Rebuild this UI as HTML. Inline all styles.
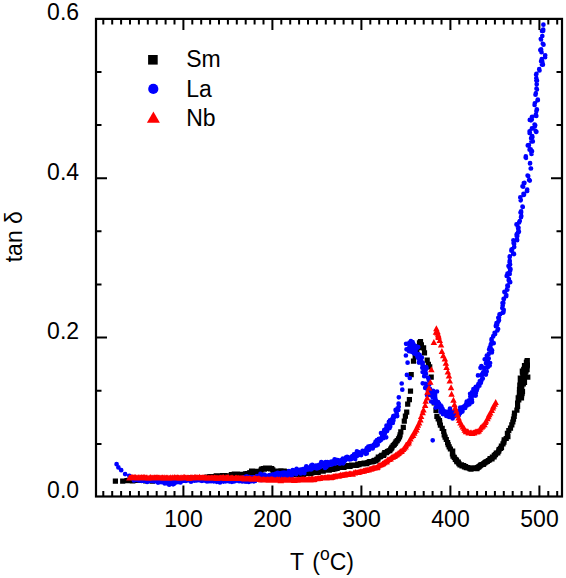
<!DOCTYPE html>
<html><head><meta charset="utf-8"><title>tan delta vs T</title>
<style>
html,body{margin:0;padding:0;background:#fff;}
svg{display:block;}
text{font-family:"Liberation Sans",sans-serif;fill:#000;}
</style></head><body>
<svg width="566" height="578" viewBox="0 0 566 578">
<rect width="566" height="578" fill="#fff"/>
<path d="M112.8 478.5h5.2v5.2h-5.2zM120.1 478.5h5.2v5.2h-5.2zM124.4 478.0h5.2v5.2h-5.2zM125.6 477.9h5.2v5.2h-5.2zM126.5 477.8h5.2v5.2h-5.2zM127.6 478.0h5.2v5.2h-5.2zM128.8 477.7h5.2v5.2h-5.2zM129.8 478.2h5.2v5.2h-5.2zM130.7 478.0h5.2v5.2h-5.2zM131.7 477.9h5.2v5.2h-5.2zM132.7 477.3h5.2v5.2h-5.2zM133.8 477.0h5.2v5.2h-5.2zM135.1 477.0h5.2v5.2h-5.2zM135.9 477.3h5.2v5.2h-5.2zM136.7 477.9h5.2v5.2h-5.2zM137.7 476.7h5.2v5.2h-5.2zM138.9 477.8h5.2v5.2h-5.2zM139.9 477.1h5.2v5.2h-5.2zM140.8 477.9h5.2v5.2h-5.2zM141.6 477.4h5.2v5.2h-5.2zM142.5 477.4h5.2v5.2h-5.2zM143.2 478.2h5.2v5.2h-5.2zM144.0 477.7h5.2v5.2h-5.2zM145.2 477.8h5.2v5.2h-5.2zM146.4 477.7h5.2v5.2h-5.2zM147.5 477.0h5.2v5.2h-5.2zM148.6 477.7h5.2v5.2h-5.2zM149.8 478.5h5.2v5.2h-5.2zM150.8 477.0h5.2v5.2h-5.2zM151.7 477.7h5.2v5.2h-5.2zM152.6 477.7h5.2v5.2h-5.2zM153.5 477.7h5.2v5.2h-5.2zM154.5 477.0h5.2v5.2h-5.2zM155.6 477.1h5.2v5.2h-5.2zM156.4 476.7h5.2v5.2h-5.2zM157.3 477.1h5.2v5.2h-5.2zM158.1 477.6h5.2v5.2h-5.2zM158.9 476.7h5.2v5.2h-5.2zM159.8 476.1h5.2v5.2h-5.2zM160.9 476.9h5.2v5.2h-5.2zM162.1 477.2h5.2v5.2h-5.2zM163.3 476.7h5.2v5.2h-5.2zM164.2 477.5h5.2v5.2h-5.2zM165.3 476.7h5.2v5.2h-5.2zM166.2 476.7h5.2v5.2h-5.2zM167.2 476.3h5.2v5.2h-5.2zM168.2 476.5h5.2v5.2h-5.2zM169.1 477.0h5.2v5.2h-5.2zM170.3 477.0h5.2v5.2h-5.2zM171.3 477.1h5.2v5.2h-5.2zM172.4 476.9h5.2v5.2h-5.2zM173.3 476.8h5.2v5.2h-5.2zM174.1 475.7h5.2v5.2h-5.2zM175.2 476.1h5.2v5.2h-5.2zM176.3 477.5h5.2v5.2h-5.2zM177.2 476.2h5.2v5.2h-5.2zM178.3 476.7h5.2v5.2h-5.2zM179.3 476.3h5.2v5.2h-5.2zM180.5 476.6h5.2v5.2h-5.2zM181.7 476.3h5.2v5.2h-5.2zM182.8 475.9h5.2v5.2h-5.2zM183.6 475.9h5.2v5.2h-5.2zM184.8 476.4h5.2v5.2h-5.2zM185.9 476.0h5.2v5.2h-5.2zM186.8 475.3h5.2v5.2h-5.2zM187.7 476.3h5.2v5.2h-5.2zM188.7 476.5h5.2v5.2h-5.2zM189.6 476.5h5.2v5.2h-5.2zM190.6 476.4h5.2v5.2h-5.2zM191.5 475.4h5.2v5.2h-5.2zM192.5 476.7h5.2v5.2h-5.2zM193.5 475.9h5.2v5.2h-5.2zM194.7 475.5h5.2v5.2h-5.2zM195.7 475.7h5.2v5.2h-5.2zM196.9 475.6h5.2v5.2h-5.2zM198.1 475.2h5.2v5.2h-5.2zM199.1 475.6h5.2v5.2h-5.2zM200.3 475.5h5.2v5.2h-5.2zM201.4 475.2h5.2v5.2h-5.2zM202.6 475.2h5.2v5.2h-5.2zM203.5 475.0h5.2v5.2h-5.2zM204.3 474.6h5.2v5.2h-5.2zM205.2 474.6h5.2v5.2h-5.2zM206.4 474.9h5.2v5.2h-5.2zM207.3 474.0h5.2v5.2h-5.2zM208.4 474.2h5.2v5.2h-5.2zM209.7 474.6h5.2v5.2h-5.2zM210.7 474.2h5.2v5.2h-5.2zM211.6 474.3h5.2v5.2h-5.2zM212.5 473.9h5.2v5.2h-5.2zM213.6 473.2h5.2v5.2h-5.2zM214.5 473.5h5.2v5.2h-5.2zM215.6 473.6h5.2v5.2h-5.2zM216.6 473.3h5.2v5.2h-5.2zM217.4 473.3h5.2v5.2h-5.2zM218.2 473.4h5.2v5.2h-5.2zM219.1 473.7h5.2v5.2h-5.2zM220.1 473.0h5.2v5.2h-5.2zM221.2 473.6h5.2v5.2h-5.2zM222.2 473.1h5.2v5.2h-5.2zM223.2 473.4h5.2v5.2h-5.2zM224.2 473.4h5.2v5.2h-5.2zM225.3 473.6h5.2v5.2h-5.2zM226.1 473.2h5.2v5.2h-5.2zM226.9 473.2h5.2v5.2h-5.2zM228.1 473.4h5.2v5.2h-5.2zM228.8 471.9h5.2v5.2h-5.2zM229.7 472.1h5.2v5.2h-5.2zM230.9 472.9h5.2v5.2h-5.2zM231.7 471.5h5.2v5.2h-5.2zM232.9 472.4h5.2v5.2h-5.2zM234.0 472.3h5.2v5.2h-5.2zM234.8 471.6h5.2v5.2h-5.2zM235.9 471.8h5.2v5.2h-5.2zM236.7 472.4h5.2v5.2h-5.2zM237.8 472.3h5.2v5.2h-5.2zM238.9 471.8h5.2v5.2h-5.2zM240.1 471.7h5.2v5.2h-5.2zM241.2 471.7h5.2v5.2h-5.2zM242.0 472.1h5.2v5.2h-5.2zM242.9 471.3h5.2v5.2h-5.2zM244.1 471.9h5.2v5.2h-5.2zM244.6 471.0h5.2v5.2h-5.2zM246.2 471.1h5.2v5.2h-5.2zM247.0 470.3h5.2v5.2h-5.2zM248.4 470.0h5.2v5.2h-5.2zM249.0 468.4h5.2v5.2h-5.2zM250.0 468.5h5.2v5.2h-5.2zM250.9 469.0h5.2v5.2h-5.2zM251.9 469.9h5.2v5.2h-5.2zM253.0 468.8h5.2v5.2h-5.2zM253.9 469.8h5.2v5.2h-5.2zM255.1 469.3h5.2v5.2h-5.2zM255.9 469.3h5.2v5.2h-5.2zM256.7 469.5h5.2v5.2h-5.2zM257.2 468.7h5.2v5.2h-5.2zM258.5 467.6h5.2v5.2h-5.2zM259.1 466.4h5.2v5.2h-5.2zM260.7 465.9h5.2v5.2h-5.2zM261.9 466.5h5.2v5.2h-5.2zM262.9 465.4h5.2v5.2h-5.2zM264.1 465.7h5.2v5.2h-5.2zM265.0 465.5h5.2v5.2h-5.2zM266.1 465.6h5.2v5.2h-5.2zM266.9 465.5h5.2v5.2h-5.2zM267.9 466.3h5.2v5.2h-5.2zM269.1 465.9h5.2v5.2h-5.2zM270.2 467.3h5.2v5.2h-5.2zM270.7 469.1h5.2v5.2h-5.2zM272.5 469.6h5.2v5.2h-5.2zM273.5 468.9h5.2v5.2h-5.2zM274.4 468.7h5.2v5.2h-5.2zM275.3 468.5h5.2v5.2h-5.2zM276.4 469.2h5.2v5.2h-5.2zM277.4 468.5h5.2v5.2h-5.2zM278.3 468.3h5.2v5.2h-5.2zM279.5 468.8h5.2v5.2h-5.2zM280.4 468.4h5.2v5.2h-5.2zM281.6 468.6h5.2v5.2h-5.2zM282.8 469.2h5.2v5.2h-5.2zM283.7 469.8h5.2v5.2h-5.2zM284.8 469.7h5.2v5.2h-5.2zM285.6 470.1h5.2v5.2h-5.2zM286.8 470.3h5.2v5.2h-5.2zM287.6 470.1h5.2v5.2h-5.2zM288.8 470.7h5.2v5.2h-5.2zM289.9 471.0h5.2v5.2h-5.2zM291.0 470.6h5.2v5.2h-5.2zM292.1 472.0h5.2v5.2h-5.2zM293.3 471.1h5.2v5.2h-5.2zM294.3 471.5h5.2v5.2h-5.2zM295.3 470.9h5.2v5.2h-5.2zM296.4 471.1h5.2v5.2h-5.2zM297.0 472.3h5.2v5.2h-5.2zM298.3 471.8h5.2v5.2h-5.2zM299.2 471.3h5.2v5.2h-5.2zM300.0 470.7h5.2v5.2h-5.2zM301.1 471.9h5.2v5.2h-5.2zM301.8 470.7h5.2v5.2h-5.2zM302.9 470.8h5.2v5.2h-5.2zM304.0 470.8h5.2v5.2h-5.2zM305.0 470.9h5.2v5.2h-5.2zM306.0 470.6h5.2v5.2h-5.2zM307.0 470.4h5.2v5.2h-5.2zM308.3 471.1h5.2v5.2h-5.2zM309.0 470.1h5.2v5.2h-5.2zM309.8 470.1h5.2v5.2h-5.2zM310.9 469.1h5.2v5.2h-5.2zM312.3 469.8h5.2v5.2h-5.2zM313.1 468.6h5.2v5.2h-5.2zM314.4 468.8h5.2v5.2h-5.2zM315.6 469.9h5.2v5.2h-5.2zM316.1 468.4h5.2v5.2h-5.2zM317.1 468.6h5.2v5.2h-5.2zM318.2 467.9h5.2v5.2h-5.2zM319.3 467.7h5.2v5.2h-5.2zM320.6 468.5h5.2v5.2h-5.2zM321.7 467.6h5.2v5.2h-5.2zM322.5 467.6h5.2v5.2h-5.2zM323.3 467.4h5.2v5.2h-5.2zM324.3 466.7h5.2v5.2h-5.2zM325.6 467.1h5.2v5.2h-5.2zM326.7 467.5h5.2v5.2h-5.2zM327.8 466.5h5.2v5.2h-5.2zM329.0 466.8h5.2v5.2h-5.2zM330.2 466.9h5.2v5.2h-5.2zM331.1 465.7h5.2v5.2h-5.2zM332.3 466.4h5.2v5.2h-5.2zM333.1 465.0h5.2v5.2h-5.2zM334.3 465.9h5.2v5.2h-5.2zM335.0 465.3h5.2v5.2h-5.2zM336.1 464.7h5.2v5.2h-5.2zM337.3 464.9h5.2v5.2h-5.2zM338.5 464.5h5.2v5.2h-5.2zM339.4 463.8h5.2v5.2h-5.2zM340.6 464.8h5.2v5.2h-5.2zM341.4 464.7h5.2v5.2h-5.2zM342.2 463.6h5.2v5.2h-5.2zM343.1 463.7h5.2v5.2h-5.2zM344.1 463.5h5.2v5.2h-5.2zM344.9 463.5h5.2v5.2h-5.2zM345.7 462.9h5.2v5.2h-5.2zM347.1 463.7h5.2v5.2h-5.2zM348.0 463.2h5.2v5.2h-5.2zM349.0 462.6h5.2v5.2h-5.2zM350.2 462.6h5.2v5.2h-5.2zM351.3 462.4h5.2v5.2h-5.2zM352.4 462.4h5.2v5.2h-5.2zM353.4 462.7h5.2v5.2h-5.2zM354.3 462.5h5.2v5.2h-5.2zM355.2 461.6h5.2v5.2h-5.2zM356.4 462.0h5.2v5.2h-5.2zM357.2 461.4h5.2v5.2h-5.2zM358.1 460.9h5.2v5.2h-5.2zM359.3 461.0h5.2v5.2h-5.2zM360.5 461.3h5.2v5.2h-5.2zM361.5 460.5h5.2v5.2h-5.2zM362.6 460.7h5.2v5.2h-5.2zM363.8 461.0h5.2v5.2h-5.2zM364.6 460.2h5.2v5.2h-5.2zM365.5 459.9h5.2v5.2h-5.2zM366.5 459.5h5.2v5.2h-5.2zM367.3 458.9h5.2v5.2h-5.2zM368.6 459.2h5.2v5.2h-5.2zM369.8 459.0h5.2v5.2h-5.2zM370.7 458.7h5.2v5.2h-5.2zM371.5 458.0h5.2v5.2h-5.2zM372.3 457.7h5.2v5.2h-5.2zM373.4 458.2h5.2v5.2h-5.2zM374.2 456.7h5.2v5.2h-5.2zM375.4 456.2h5.2v5.2h-5.2zM375.7 454.6h5.2v5.2h-5.2zM377.2 454.4h5.2v5.2h-5.2zM378.1 453.7h5.2v5.2h-5.2zM379.1 452.7h5.2v5.2h-5.2zM381.0 452.9h5.2v5.2h-5.2zM381.5 451.5h5.2v5.2h-5.2zM382.2 450.1h5.2v5.2h-5.2zM383.8 450.0h5.2v5.2h-5.2zM384.8 449.1h5.2v5.2h-5.2zM385.8 448.4h5.2v5.2h-5.2zM387.2 448.0h5.2v5.2h-5.2zM388.1 446.6h5.2v5.2h-5.2zM389.0 445.6h5.2v5.2h-5.2zM389.5 444.4h5.2v5.2h-5.2zM390.6 442.9h5.2v5.2h-5.2zM391.7 442.0h5.2v5.2h-5.2zM392.6 440.8h5.2v5.2h-5.2zM393.4 439.3h5.2v5.2h-5.2zM394.6 438.1h5.2v5.2h-5.2zM395.9 436.3h5.2v5.2h-5.2zM396.9 434.4h5.2v5.2h-5.2zM397.5 432.2h5.2v5.2h-5.2zM398.2 429.3h5.2v5.2h-5.2zM400.7 424.8h5.2v5.2h-5.2zM401.7 418.6h5.2v5.2h-5.2zM402.8 413.6h5.2v5.2h-5.2zM404.1 409.6h5.2v5.2h-5.2zM405.1 401.5h5.2v5.2h-5.2zM406.8 397.0h5.2v5.2h-5.2zM407.9 388.6h5.2v5.2h-5.2zM408.6 372.1h5.2v5.2h-5.2zM410.9 358.6h5.2v5.2h-5.2zM412.6 353.8h5.2v5.2h-5.2zM414.2 349.3h5.2v5.2h-5.2zM416.1 345.0h5.2v5.2h-5.2zM416.9 340.3h5.2v5.2h-5.2zM418.8 342.3h5.2v5.2h-5.2zM421.0 345.2h5.2v5.2h-5.2zM421.9 350.2h5.2v5.2h-5.2zM424.6 357.5h5.2v5.2h-5.2zM425.8 361.8h5.2v5.2h-5.2zM427.1 364.2h5.2v5.2h-5.2zM428.6 374.6h5.2v5.2h-5.2zM429.5 390.0h5.2v5.2h-5.2zM431.7 400.4h5.2v5.2h-5.2zM433.4 407.7h5.2v5.2h-5.2zM434.3 413.8h5.2v5.2h-5.2zM435.6 416.3h5.2v5.2h-5.2zM436.9 418.1h5.2v5.2h-5.2zM437.1 420.1h5.2v5.2h-5.2zM437.8 422.5h5.2v5.2h-5.2zM439.6 425.7h5.2v5.2h-5.2zM441.1 428.9h5.2v5.2h-5.2zM441.6 432.4h5.2v5.2h-5.2zM442.5 434.5h5.2v5.2h-5.2zM443.7 436.9h5.2v5.2h-5.2zM445.0 440.0h5.2v5.2h-5.2zM445.6 442.0h5.2v5.2h-5.2zM446.6 444.3h5.2v5.2h-5.2zM447.8 446.4h5.2v5.2h-5.2zM450.1 448.5h5.2v5.2h-5.2zM449.8 451.4h5.2v5.2h-5.2zM450.4 453.6h5.2v5.2h-5.2zM451.7 454.7h5.2v5.2h-5.2zM452.7 456.7h5.2v5.2h-5.2zM453.9 457.5h5.2v5.2h-5.2zM454.2 459.1h5.2v5.2h-5.2zM455.7 459.5h5.2v5.2h-5.2zM456.3 461.1h5.2v5.2h-5.2zM457.4 462.2h5.2v5.2h-5.2zM458.9 462.3h5.2v5.2h-5.2zM459.4 463.2h5.2v5.2h-5.2zM461.1 463.1h5.2v5.2h-5.2zM461.8 464.4h5.2v5.2h-5.2zM463.0 463.9h5.2v5.2h-5.2zM463.7 465.1h5.2v5.2h-5.2zM464.7 464.9h5.2v5.2h-5.2zM465.6 465.3h5.2v5.2h-5.2zM466.5 465.3h5.2v5.2h-5.2zM467.3 466.0h5.2v5.2h-5.2zM468.5 466.5h5.2v5.2h-5.2zM469.3 465.6h5.2v5.2h-5.2zM470.3 465.7h5.2v5.2h-5.2zM471.2 465.8h5.2v5.2h-5.2zM472.1 465.2h5.2v5.2h-5.2zM473.0 465.9h5.2v5.2h-5.2zM474.3 466.1h5.2v5.2h-5.2zM474.9 465.1h5.2v5.2h-5.2zM475.8 464.5h5.2v5.2h-5.2zM476.6 464.1h5.2v5.2h-5.2zM477.6 463.0h5.2v5.2h-5.2zM478.4 462.2h5.2v5.2h-5.2zM479.5 461.9h5.2v5.2h-5.2zM480.7 461.7h5.2v5.2h-5.2zM481.3 461.0h5.2v5.2h-5.2zM482.4 460.0h5.2v5.2h-5.2zM483.5 459.3h5.2v5.2h-5.2zM484.7 458.9h5.2v5.2h-5.2zM485.7 457.9h5.2v5.2h-5.2zM487.0 457.4h5.2v5.2h-5.2zM487.5 455.9h5.2v5.2h-5.2zM489.4 456.4h5.2v5.2h-5.2zM489.8 454.5h5.2v5.2h-5.2zM491.5 454.4h5.2v5.2h-5.2zM491.7 452.8h5.2v5.2h-5.2zM492.9 452.1h5.2v5.2h-5.2zM493.7 450.5h5.2v5.2h-5.2zM495.2 450.2h5.2v5.2h-5.2zM496.1 448.5h5.2v5.2h-5.2zM496.5 447.0h5.2v5.2h-5.2zM497.8 445.7h5.2v5.2h-5.2zM498.9 445.1h5.2v5.2h-5.2zM498.8 443.4h5.2v5.2h-5.2zM500.4 441.2h5.2v5.2h-5.2zM501.3 439.6h5.2v5.2h-5.2zM501.6 437.3h5.2v5.2h-5.2zM503.6 435.9h5.2v5.2h-5.2zM505.3 434.0h5.2v5.2h-5.2zM504.8 430.7h5.2v5.2h-5.2zM506.2 428.0h5.2v5.2h-5.2zM507.9 425.5h5.2v5.2h-5.2zM509.2 422.2h5.2v5.2h-5.2zM510.2 419.4h5.2v5.2h-5.2zM510.9 416.5h5.2v5.2h-5.2zM511.6 413.8h5.2v5.2h-5.2zM511.9 410.5h5.2v5.2h-5.2zM514.3 407.5h5.2v5.2h-5.2zM515.0 403.8h5.2v5.2h-5.2zM515.0 400.6h5.2v5.2h-5.2zM516.2 397.3h5.2v5.2h-5.2zM516.1 396.7h5.2v5.2h-5.2zM516.1 396.0h5.2v5.2h-5.2zM515.6 395.2h5.2v5.2h-5.2zM518.9 395.3h5.2v5.2h-5.2zM516.6 394.3h5.2v5.2h-5.2zM517.7 393.9h5.2v5.2h-5.2zM516.8 393.0h5.2v5.2h-5.2zM517.5 392.5h5.2v5.2h-5.2zM519.1 392.3h5.2v5.2h-5.2zM517.5 391.3h5.2v5.2h-5.2zM519.5 390.9h5.2v5.2h-5.2zM516.8 389.9h5.2v5.2h-5.2zM518.7 389.6h5.2v5.2h-5.2zM519.9 389.0h5.2v5.2h-5.2zM519.1 388.4h5.2v5.2h-5.2zM517.2 387.4h5.2v5.2h-5.2zM516.9 386.7h5.2v5.2h-5.2zM517.9 386.1h5.2v5.2h-5.2zM517.6 385.3h5.2v5.2h-5.2zM519.2 384.9h5.2v5.2h-5.2zM518.6 384.0h5.2v5.2h-5.2zM517.8 383.3h5.2v5.2h-5.2zM517.2 382.4h5.2v5.2h-5.2zM518.2 381.9h5.2v5.2h-5.2zM519.3 381.5h5.2v5.2h-5.2zM520.7 381.2h5.2v5.2h-5.2zM520.2 380.5h5.2v5.2h-5.2zM520.8 380.1h5.2v5.2h-5.2zM521.9 379.7h5.2v5.2h-5.2zM520.6 378.7h5.2v5.2h-5.2zM517.7 377.6h5.2v5.2h-5.2zM519.8 377.5h5.2v5.2h-5.2zM518.1 376.4h5.2v5.2h-5.2zM520.6 376.5h5.2v5.2h-5.2zM517.7 375.4h5.2v5.2h-5.2zM520.5 375.4h5.2v5.2h-5.2zM520.9 375.0h5.2v5.2h-5.2zM521.8 374.8h5.2v5.2h-5.2zM520.9 374.0h5.2v5.2h-5.2zM525.2 374.5h5.2v5.2h-5.2zM520.5 372.8h5.2v5.2h-5.2zM522.6 372.7h5.2v5.2h-5.2zM520.8 371.6h5.2v5.2h-5.2zM520.2 371.0h5.2v5.2h-5.2zM521.1 370.5h5.2v5.2h-5.2zM519.8 369.6h5.2v5.2h-5.2zM522.3 369.5h5.2v5.2h-5.2zM519.7 368.4h5.2v5.2h-5.2zM523.4 368.6h5.2v5.2h-5.2zM522.3 367.9h5.2v5.2h-5.2zM523.3 367.7h5.2v5.2h-5.2zM521.1 366.8h5.2v5.2h-5.2zM524.5 367.0h5.2v5.2h-5.2zM524.2 366.5h5.2v5.2h-5.2zM524.0 366.0h5.2v5.2h-5.2zM522.9 365.1h5.2v5.2h-5.2zM524.0 364.9h5.2v5.2h-5.2zM523.2 364.0h5.2v5.2h-5.2zM524.6 363.9h5.2v5.2h-5.2zM521.9 362.9h5.2v5.2h-5.2zM523.6 362.9h5.2v5.2h-5.2zM524.8 362.5h5.2v5.2h-5.2zM524.4 362.0h5.2v5.2h-5.2zM524.5 361.5h5.2v5.2h-5.2zM524.5 361.1h5.2v5.2h-5.2zM524.2 360.4h5.2v5.2h-5.2zM523.8 359.8h5.2v5.2h-5.2zM524.6 359.4h5.2v5.2h-5.2zM524.4 358.7h5.2v5.2h-5.2zM524.6 358.2h5.2v5.2h-5.2zM524.7 358.0h5.2v5.2h-5.2zM417.9 339.1h5.2v5.2h-5.2zM416.9 340.4h5.2v5.2h-5.2z" fill="#000"/>
<path d="M116.6 464.2h0M118.4 467.4h0M121.2 470.2h0M125.1 474.1h0M129.3 475.8h0M132.1 477.4h0M132.4 477.7h0M133.2 477.5h0M133.1 478.8h0M133.7 478.8h0M133.8 479.7h0M133.9 480.5h0M135.1 480.0h0M135.5 479.6h0M136.0 478.6h0M136.5 479.6h0M137.0 479.8h0M137.4 479.9h0M138.0 479.7h0M138.3 479.4h0M138.8 480.4h0M139.2 479.9h0M139.6 480.5h0M140.3 479.4h0M140.6 480.1h0M141.0 480.7h0M141.5 480.8h0M142.0 479.2h0M142.5 479.9h0M143.0 479.8h0M143.4 480.9h0M143.9 480.4h0M144.4 479.7h0M144.7 480.1h0M145.0 479.8h0M145.4 480.2h0M145.9 479.9h0M146.2 480.4h0M146.7 481.1h0M147.1 481.9h0M147.6 480.9h0M147.9 481.7h0M148.5 479.0h0M149.0 480.9h0M149.5 481.0h0M149.9 480.8h0M150.3 480.5h0M150.9 479.0h0M151.3 479.9h0M151.8 480.5h0M152.3 480.9h0M152.9 480.1h0M153.4 480.8h0M153.9 480.7h0M154.3 480.7h0M154.7 480.9h0M155.0 481.3h0M155.6 480.7h0M155.9 480.9h0M156.3 480.4h0M156.8 480.8h0M157.2 480.5h0M157.7 481.4h0M158.0 482.6h0M158.6 482.4h0M159.2 480.8h0M159.7 481.6h0M160.1 481.4h0M161.3 480.6h0M161.8 480.5h0M161.6 481.6h0M162.0 482.2h0M162.8 481.7h0M163.0 482.1h0M163.1 482.3h0M163.5 482.3h0M164.0 482.0h0M164.3 482.8h0M164.8 483.4h0M165.4 483.1h0M165.8 482.3h0M166.3 482.8h0M166.8 483.0h0M167.3 481.6h0M167.8 483.6h0M168.3 482.4h0M168.8 482.0h0M169.2 484.7h0M169.7 482.2h0M170.1 482.7h0M170.5 482.4h0M170.9 483.6h0M171.4 482.7h0M172.0 481.9h0M172.4 481.4h0M172.7 482.6h0M173.1 484.3h0M173.5 482.2h0M174.0 483.8h0M174.4 482.3h0M174.8 481.9h0M174.4 481.4h0M175.8 482.3h0M176.3 482.3h0M176.6 481.8h0M176.2 480.4h0M177.2 480.9h0M178.0 481.2h0M178.2 480.5h0M178.8 481.1h0M179.4 482.2h0M179.6 479.7h0M180.5 482.4h0M180.6 479.8h0M181.3 480.4h0M181.8 480.3h0M182.4 480.9h0M182.7 480.0h0M183.2 480.2h0M183.7 480.1h0M184.2 480.4h0M184.7 480.3h0M185.1 479.9h0M185.6 480.5h0M185.9 480.9h0M186.5 479.5h0M186.8 479.5h0M187.3 479.5h0M187.7 479.5h0M188.1 479.5h0M188.6 480.0h0M189.1 480.5h0M189.6 479.5h0M190.2 480.2h0M190.5 479.6h0M191.0 481.7h0M191.4 480.1h0M191.8 480.4h0M192.1 479.3h0M192.7 479.3h0M193.0 480.1h0M193.5 479.4h0M193.9 479.9h0M194.5 480.7h0M194.8 479.4h0M195.3 479.4h0M195.6 480.0h0M196.2 479.7h0M196.6 480.4h0M197.0 479.8h0M197.3 479.2h0M197.7 478.5h0M198.1 480.2h0M198.6 479.4h0M199.0 480.0h0M199.5 478.7h0M200.0 479.4h0M200.5 480.2h0M201.0 480.7h0M201.5 480.7h0M201.9 480.8h0M202.5 480.0h0M202.9 480.6h0M203.4 480.2h0M203.9 479.8h0M204.5 479.7h0M204.9 479.5h0M205.2 480.7h0M205.6 480.1h0M206.2 479.6h0M206.7 480.0h0M207.0 481.4h0M207.5 479.1h0M208.0 479.2h0M208.3 481.1h0M208.9 479.1h0M209.3 481.1h0M209.9 479.8h0M210.3 480.4h0M210.8 481.1h0M211.3 481.1h0M211.6 480.7h0M212.2 480.2h0M212.7 480.0h0M213.2 480.1h0M213.6 481.3h0M214.1 480.5h0M214.6 481.1h0M215.1 478.6h0M215.5 480.0h0M215.9 480.5h0M216.3 480.0h0M216.8 481.8h0M217.3 479.5h0M217.8 480.7h0M218.2 481.0h0M218.8 479.8h0M219.1 481.0h0M219.6 480.7h0M220.0 482.4h0M220.5 481.4h0M220.9 480.4h0M221.4 481.1h0M221.7 480.7h0M222.3 480.1h0M222.7 480.9h0M223.0 480.8h0M223.5 481.6h0M223.9 479.5h0M224.4 479.6h0M224.9 480.0h0M225.3 481.0h0M225.7 481.3h0M226.3 480.5h0M226.8 480.7h0M227.3 480.6h0M227.7 479.4h0M228.2 480.0h0M228.7 481.2h0M229.1 481.1h0M229.5 481.4h0M229.9 481.0h0M230.3 478.8h0M230.7 480.7h0M231.0 480.8h0M231.5 479.6h0M231.9 481.8h0M232.3 480.4h0M232.7 481.2h0M233.1 481.1h0M233.5 480.9h0M234.0 481.5h0M234.4 480.4h0M234.8 481.2h0M235.2 480.8h0M235.7 479.6h0M236.1 480.0h0M236.6 479.6h0M237.1 479.2h0M237.7 479.4h0M238.2 480.8h0M238.6 479.5h0M239.1 481.2h0M239.5 480.3h0M240.0 480.0h0M240.5 478.7h0M241.0 480.9h0M241.5 479.1h0M241.9 481.3h0M242.4 481.3h0M242.4 477.9h0M243.3 480.9h0M243.4 477.3h0M244.4 481.3h0M244.4 477.1h0M245.1 478.5h0M246.1 481.7h0M246.4 480.2h0M246.9 480.8h0M246.7 476.4h0M247.7 480.8h0M247.9 478.5h0M248.8 481.9h0M248.9 479.6h0M249.3 479.3h0M249.6 477.2h0M250.2 478.1h0M250.8 479.2h0M251.5 481.1h0M251.9 481.0h0M252.0 478.8h0M252.5 477.4h0M252.8 477.3h0M253.7 481.3h0M254.0 479.3h0M254.1 477.3h0M255.1 480.9h0M255.3 479.5h0M255.9 479.7h0M256.3 479.8h0M256.5 479.0h0M256.9 477.7h0M257.0 476.1h0M257.5 476.4h0M258.0 477.0h0M258.7 478.8h0M258.9 477.0h0M259.7 479.1h0M260.3 479.1h0M260.7 479.9h0M261.1 479.9h0M260.5 473.9h0M262.1 479.9h0M262.3 477.8h0M262.7 477.7h0M262.9 476.5h0M263.6 477.7h0M263.9 477.4h0M264.2 476.3h0M264.4 474.5h0M265.5 478.9h0M265.7 477.8h0M265.9 475.5h0M266.5 476.2h0M267.1 477.9h0M267.4 476.0h0M268.0 477.1h0M268.6 478.1h0M269.0 477.7h0M269.2 476.3h0M269.5 475.2h0M270.1 475.8h0M270.8 477.4h0M271.0 476.0h0M271.9 478.5h0M272.3 478.6h0M272.6 478.2h0M273.0 477.0h0M273.0 474.3h0M273.9 478.3h0M274.2 476.9h0M274.3 474.9h0M274.6 474.5h0M275.2 474.8h0M275.8 475.8h0M275.9 473.5h0M277.0 477.1h0M277.1 474.9h0M277.8 476.1h0M277.8 472.8h0M279.3 479.3h0M279.3 476.5h0M279.5 474.8h0M279.8 473.3h0M280.8 476.9h0M280.8 474.2h0M281.2 474.1h0M281.7 473.4h0M282.2 472.8h0M282.9 474.3h0M283.3 474.4h0M283.8 473.7h0M284.0 472.7h0M284.9 476.3h0M285.3 476.4h0M285.3 472.8h0M286.3 475.8h0M286.4 474.0h0M286.9 473.7h0M287.7 476.5h0M288.1 476.3h0M287.9 473.0h0M288.6 474.5h0M288.7 472.6h0M288.9 471.1h0M290.0 474.5h0M290.4 473.8h0M290.9 474.1h0M291.7 476.1h0M291.7 472.5h0M292.3 473.5h0M292.8 473.0h0M292.7 470.0h0M293.5 472.3h0M293.6 470.3h0M294.5 472.5h0M294.8 470.9h0M295.1 470.7h0M296.1 474.2h0M296.0 471.5h0M296.4 471.6h0M297.1 472.3h0M296.6 468.9h0M297.5 470.4h0M298.0 470.5h0M298.9 472.0h0M299.2 471.6h0M299.4 470.3h0M300.7 473.5h0M300.3 470.2h0M300.6 469.7h0M301.4 471.2h0M301.5 469.6h0M302.7 472.1h0M302.7 470.7h0M302.9 469.2h0M304.4 473.1h0M303.8 469.4h0M304.4 469.7h0M305.1 470.1h0M305.5 470.0h0M306.0 470.0h0M305.8 467.5h0M306.6 469.3h0M306.3 466.3h0M307.3 468.6h0M307.8 468.7h0M308.4 469.5h0M308.3 467.6h0M309.1 468.9h0M309.2 467.9h0M309.9 468.4h0M309.9 467.0h0M311.0 469.4h0M311.5 469.2h0M311.1 465.7h0M312.0 467.4h0M312.3 467.1h0M312.2 464.8h0M312.9 465.7h0M313.7 466.9h0M313.7 465.5h0M314.6 467.3h0M315.3 467.9h0M315.4 465.9h0M316.2 467.5h0M316.9 468.5h0M316.6 465.6h0M317.7 468.0h0M318.1 467.9h0M318.6 468.0h0M318.5 466.1h0M318.9 466.4h0M319.1 464.8h0M320.2 466.9h0M320.6 466.7h0M320.9 466.1h0M321.3 465.4h0M321.5 464.4h0M321.3 462.1h0M322.2 464.4h0M322.3 462.7h0M323.4 464.7h0M323.6 463.7h0M325.1 467.9h0M324.6 463.8h0M325.1 463.2h0M326.3 466.9h0M325.7 462.0h0M327.0 465.8h0M327.6 465.7h0M327.6 463.8h0M327.6 462.0h0M328.2 463.0h0M329.0 463.9h0M329.6 464.7h0M329.9 464.2h0M330.4 464.0h0M330.6 462.7h0M331.6 464.6h0M331.3 461.6h0M331.8 462.0h0M332.6 463.0h0M333.3 463.8h0M333.6 463.2h0M334.0 463.2h0M334.1 461.7h0M335.2 463.6h0M334.6 459.3h0M335.6 461.1h0M335.9 460.0h0M336.5 460.2h0M337.4 462.2h0M337.9 462.6h0M337.7 460.0h0M338.6 461.2h0M339.8 463.7h0M339.7 461.4h0M340.6 462.8h0M340.9 462.2h0M341.4 462.2h0M341.4 460.0h0M342.1 460.9h0M343.2 463.3h0M342.6 459.1h0M342.9 458.5h0M344.3 461.6h0M344.0 459.0h0M344.7 459.7h0M345.4 460.3h0M345.5 458.8h0M346.1 458.9h0M346.1 457.4h0M347.2 458.6h0M347.1 456.8h0M348.4 458.9h0M348.6 458.4h0M349.5 459.5h0M349.2 457.6h0M350.3 459.2h0M350.7 459.2h0M351.3 459.1h0M351.5 458.3h0M351.8 457.7h0M352.1 457.3h0M352.3 456.2h0M353.0 456.5h0M353.5 456.3h0M355.2 458.9h0M354.0 454.4h0M355.0 455.4h0M355.7 455.9h0M355.4 454.2h0M357.0 456.0h0M356.7 454.1h0M357.7 455.1h0M357.9 454.5h0M356.9 451.4h0M359.2 454.8h0M358.4 452.2h0M359.9 453.9h0M361.2 455.1h0M361.2 454.2h0M361.1 452.8h0M361.7 452.6h0M362.3 452.5h0M362.5 451.8h0M362.6 450.8h0M363.7 451.6h0M364.0 451.3h0M365.8 453.8h0M365.2 451.6h0M366.8 453.5h0M365.8 450.5h0M366.6 450.6h0M366.9 449.9h0M366.6 448.6h0M366.9 448.2h0M367.8 448.7h0M369.2 449.8h0M368.1 447.2h0M368.3 446.5h0M369.9 447.6h0M370.0 446.6h0M370.4 446.2h0M372.7 448.5h0M371.9 446.3h0M372.9 446.6h0M372.9 445.5h0M373.9 446.2h0M373.7 444.9h0M373.9 444.6h0M375.1 445.3h0M375.0 444.0h0M376.5 445.4h0M375.2 442.8h0M377.7 444.7h0M375.6 441.6h0M376.8 441.8h0M377.8 441.8h0M377.0 440.2h0M377.9 440.3h0M379.7 441.1h0M379.0 439.8h0M379.0 438.9h0M380.9 439.9h0M380.8 438.6h0M381.8 438.3h0M383.3 438.2h0M382.0 436.6h0M382.8 436.2h0M386.2 437.3h0M381.0 433.1h0M383.9 434.2h0M383.2 432.9h0M385.0 433.2h0M383.9 431.7h0M384.9 431.1h0M384.3 429.8h0M387.1 430.9h0M386.8 429.5h0M386.9 428.5h0M386.4 427.5h0M389.6 428.1h0M386.5 425.5h0M390.2 426.7h0M389.7 425.5h0M389.0 424.3h0M390.2 423.8h0M388.9 421.9h0M392.8 423.0h0M390.0 420.3h0M391.3 420.1h0M393.4 420.4h0M392.4 418.7h0M393.5 418.4h0M393.9 417.7h0M393.3 416.2h0M393.9 415.8h0M397.2 416.1h0M396.6 414.6h0M396.7 413.4h0M396.6 412.1h0M395.8 410.8h0M395.6 409.9h0M398.4 410.0h0M397.5 408.3h0M398.7 406.8h0M398.6 403.7h0M398.8 397.3h0M402.3 389.7h0M401.7 383.5h0M406.9 374.9h0M407.6 362.7h0M405.9 355.5h0M409.1 351.2h0M406.5 349.3h0M409.7 349.0h0M411.3 348.6h0M409.4 347.1h0M412.0 346.6h0M406.1 343.8h0M409.4 343.6h0M410.1 342.6h0M409.8 344.0h0M410.5 343.2h0M410.5 344.2h0M411.1 343.7h0M412.0 342.5h0M412.6 342.0h0M410.8 344.8h0M413.4 344.2h0M412.1 345.7h0M412.7 346.3h0M414.1 346.4h0M415.7 346.2h0M413.7 348.0h0M412.6 349.2h0M418.2 347.0h0M416.8 348.6h0M411.7 351.8h0M415.2 350.7h0M415.2 351.6h0M414.2 352.8h0M414.1 353.5h0M416.2 353.3h0M416.0 354.3h0M418.2 354.1h0M417.6 355.1h0M419.6 354.8h0M417.4 356.8h0M417.9 357.4h0M418.1 357.9h0M418.4 358.6h0M421.9 357.5h0M420.0 359.1h0M421.2 359.1h0M420.7 360.1h0M419.8 361.3h0M418.9 362.6h0M421.5 362.0h0M422.7 362.5h0M422.6 363.5h0M422.5 364.8h0M422.9 365.4h0M422.7 366.7h0M422.3 367.8h0M426.2 367.2h0M426.6 368.0h0M425.5 369.3h0M425.6 370.2h0M422.6 372.0h0M425.9 373.7h0M424.2 376.2h0M428.0 377.8h0M428.8 379.9h0M422.7 383.3h0M425.7 383.9h0M429.4 384.1h0M428.4 385.8h0M425.2 387.9h0M428.0 388.2h0M429.9 388.8h0M427.9 390.9h0M429.0 391.9h0M433.1 390.9h0M427.1 395.2h0M429.3 394.8h0M431.4 394.6h0M432.5 394.8h0M433.1 395.1h0M435.1 394.9h0M432.5 397.1h0M434.1 397.1h0M435.2 397.3h0M435.0 398.4h0M431.1 401.5h0M435.6 399.6h0M433.4 401.8h0M433.3 402.7h0M435.6 402.0h0M435.1 403.2h0M438.1 402.1h0M437.5 403.4h0M437.2 404.3h0M439.0 403.6h0M439.2 404.1h0M435.7 407.6h0M437.0 407.1h0M439.1 406.3h0M440.8 405.7h0M439.7 407.5h0M441.5 406.5h0M440.7 407.8h0M440.8 408.6h0M441.0 409.1h0M442.5 408.8h0M440.9 410.7h0M440.6 411.8h0M443.3 410.5h0M442.8 411.5h0M444.0 411.1h0M443.5 412.2h0M442.8 414.1h0M445.0 411.6h0M445.5 411.6h0M445.5 412.6h0M446.1 412.7h0M445.8 413.6h0M446.3 413.6h0M450.0 408.5h0M448.8 411.3h0M446.3 415.9h0M448.1 413.9h0M448.2 414.5h0M449.0 414.1h0M449.1 417.0h0M449.4 416.5h0M449.5 415.0h0M449.8 415.6h0M450.2 415.2h0M450.4 413.4h0M450.8 414.2h0M451.6 417.1h0M451.8 415.5h0M452.6 418.5h0M452.5 415.4h0M452.4 412.1h0M453.2 415.1h0M453.3 413.9h0M453.4 411.9h0M453.7 411.8h0M454.7 416.2h0M455.4 415.4h0M454.5 412.5h0M455.3 413.1h0M455.8 413.2h0M456.8 414.3h0M456.9 413.4h0M458.2 415.2h0M457.2 412.1h0M459.0 415.1h0M458.8 413.6h0M458.7 412.6h0M458.9 412.3h0M459.6 412.8h0M460.2 413.1h0M459.8 411.2h0M459.8 410.8h0M460.3 410.7h0M460.6 410.2h0M462.4 411.6h0M462.5 411.0h0M460.2 407.7h0M461.9 408.8h0M461.5 407.6h0M463.0 408.5h0M463.1 408.0h0M462.9 407.2h0M465.2 407.9h0M464.1 406.4h0M465.3 406.5h0M465.1 405.5h0M466.7 405.7h0M466.9 405.3h0M466.1 404.0h0M467.3 404.2h0M467.3 403.5h0M469.4 404.3h0M466.7 401.7h0M468.4 402.0h0M468.4 401.4h0M468.6 400.6h0M472.1 402.1h0M470.1 399.9h0M471.5 400.2h0M471.9 399.8h0M471.1 398.5h0M471.5 398.0h0M470.3 396.4h0M470.8 395.9h0M472.3 395.9h0M470.1 393.8h0M474.2 395.4h0M475.7 395.6h0M471.9 392.4h0M474.7 393.2h0M475.9 392.9h0M474.0 391.0h0M474.1 390.3h0M473.4 389.2h0M476.8 390.3h0M476.3 389.0h0M477.4 388.3h0M475.8 386.8h0M477.6 386.2h0M479.4 385.7h0M478.4 384.0h0M479.9 383.5h0M480.9 382.8h0M479.8 381.2h0M480.6 380.8h0M481.7 380.0h0M481.9 379.2h0M482.8 378.6h0M478.0 375.4h0M481.9 375.5h0M481.8 374.4h0M485.9 374.6h0M483.1 372.4h0M484.2 371.5h0M486.7 371.4h0M480.5 367.8h0M483.9 367.8h0M481.4 366.0h0M487.8 367.2h0M487.5 365.7h0M489.7 365.6h0M490.1 363.0h0M486.0 363.2h0M487.4 362.7h0M488.1 361.7h0M484.7 359.3h0M487.3 359.0h0M488.7 358.4h0M486.8 355.7h0M488.7 353.9h0M491.9 352.5h0M492.1 350.5h0M491.6 349.9h0M490.8 348.6h0M489.8 347.3h0M489.1 349.5h0M490.8 344.8h0M490.9 344.1h0M493.7 343.2h0M492.8 342.7h0M491.6 339.2h0M491.6 340.5h0M491.5 339.3h0M493.3 336.0h0M493.2 336.4h0M494.9 333.8h0M495.1 334.1h0M494.6 332.9h0M497.4 330.5h0M498.1 329.0h0M495.9 326.2h0M495.9 325.6h0M496.8 323.1h0M497.0 324.0h0M497.1 324.9h0M496.5 323.2h0M498.3 321.5h0M499.0 320.3h0M497.6 322.8h0M498.3 317.8h0M499.0 317.4h0M499.5 314.4h0M500.1 314.2h0M502.8 312.7h0M503.3 312.6h0M503.7 309.9h0M503.5 311.8h0M502.7 305.7h0M503.3 302.9h0M502.3 308.0h0M503.1 303.0h0M502.5 303.0h0M503.1 302.9h0M503.8 299.3h0M503.6 298.9h0M506.2 296.2h0M506.3 295.1h0M506.0 296.0h0M504.4 291.9h0M505.0 292.4h0M507.1 289.1h0M507.3 289.7h0M507.4 285.7h0M507.9 286.3h0M509.6 282.2h0M510.2 282.2h0M508.9 279.2h0M508.7 280.3h0M507.5 275.5h0M507.5 273.6h0M506.7 275.9h0M509.4 272.8h0M509.7 273.9h0M510.1 269.9h0M510.5 269.2h0M510.2 270.4h0M508.9 266.8h0M508.5 266.0h0M510.1 264.6h0M509.6 262.3h0M509.7 260.9h0M509.8 261.0h0M509.7 257.1h0M509.8 256.3h0M509.8 256.6h0M513.7 253.7h0M514.0 254.1h0M513.3 253.7h0M511.5 249.6h0M511.4 250.7h0M512.3 249.1h0M514.2 246.9h0M514.1 244.0h0M513.6 243.1h0M513.4 240.3h0M517.0 239.4h0M517.1 240.2h0M516.7 235.9h0M516.6 234.7h0M517.1 233.9h0M517.5 233.6h0M517.3 236.1h0M518.7 231.9h0M518.9 231.7h0M518.2 231.9h0M518.3 229.1h0M518.5 227.8h0M517.3 225.6h0M517.8 227.0h0M516.5 224.4h0M519.8 221.0h0M519.1 222.4h0M521.0 217.2h0M521.3 216.1h0M521.1 212.4h0M520.5 212.5h0M521.1 211.3h0M522.5 206.7h0M522.8 207.0h0M520.8 200.1h0M520.3 197.4h0M520.7 200.3h0M523.7 194.8h0M523.5 193.9h0M524.0 194.8h0M527.2 190.9h0M527.2 189.7h0M526.9 191.1h0M523.1 186.7h0M522.5 186.3h0M523.8 183.0h0M524.3 183.2h0M524.4 182.8h0M529.8 180.6h0M529.1 179.9h0M527.6 175.6h0M528.2 176.0h0M530.7 168.5h0M531.0 168.5h0M530.1 163.2h0M530.0 163.4h0M525.7 157.4h0M525.9 158.0h0M525.8 156.4h0M531.5 154.0h0M531.4 152.7h0M532.0 151.2h0M529.6 149.7h0M530.7 149.3h0M528.3 145.4h0M527.8 145.4h0M528.9 145.2h0M531.4 141.3h0M531.5 140.8h0M532.8 141.4h0M531.4 138.8h0M531.1 138.2h0M532.2 136.1h0M532.4 137.1h0M529.6 133.1h0M529.6 131.3h0M529.8 132.7h0M536.4 131.8h0M535.7 131.1h0M536.0 131.8h0M532.6 128.3h0M531.9 128.4h0M535.2 125.3h0M534.6 124.5h0M534.8 126.5h0M530.9 120.3h0M529.8 119.9h0M530.1 119.8h0M532.2 116.9h0M531.9 117.0h0M531.8 119.4h0M535.9 114.5h0M536.3 115.9h0M536.9 109.7h0M536.4 111.1h0M536.8 109.3h0M534.6 105.0h0M534.8 103.3h0M537.8 99.6h0M537.8 100.2h0M537.5 100.3h0M535.8 93.4h0M535.5 94.7h0M536.5 88.7h0M536.9 89.4h0M536.7 84.2h0M537.0 80.7h0M536.4 80.1h0M536.3 80.2h0M536.3 78.2h0M536.4 73.9h0M536.1 74.8h0M539.5 70.4h0M539.2 69.2h0M541.9 64.6h0M542.6 63.4h0M542.9 64.7h0M541.8 59.1h0M542.2 61.3h0M541.1 61.2h0M545.2 55.3h0M545.1 57.2h0M541.1 49.4h0M540.3 50.1h0M541.5 52.2h0M542.8 43.8h0M543.5 44.7h0M541.0 39.4h0M540.8 39.0h0M543.2 30.8h0M542.8 30.4h0M542.0 31.0h0M543.4 24.7h0M543.2 29.5h0M542.3 36.0h0M432.7 440.3h0M409.8 378.0h0M437.0 391.5h0M410.9 341.2h0M409.5 342.5h0M412.0 342.0h0" fill="none" stroke="#0000ff" stroke-width="4.7" stroke-linecap="round"/>
<path d="M129.4 474.6l3.2 5.9h-6.5zM130.4 474.4l3.2 5.9h-6.5zM131.5 474.1l3.2 5.9h-6.5zM132.6 474.1l3.2 5.9h-6.5zM133.7 474.2l3.2 5.9h-6.5zM134.7 474.1l3.2 5.9h-6.5zM135.6 474.0l3.2 5.9h-6.5zM136.8 474.5l3.2 5.9h-6.5zM138.1 474.0l3.2 5.9h-6.5zM139.2 474.2l3.2 5.9h-6.5zM140.3 474.5l3.2 5.9h-6.5zM141.3 473.9l3.2 5.9h-6.5zM142.3 474.6l3.2 5.9h-6.5zM143.2 474.1l3.2 5.9h-6.5zM144.3 474.0l3.2 5.9h-6.5zM145.1 474.4l3.2 5.9h-6.5zM146.2 474.3l3.2 5.9h-6.5zM147.2 474.4l3.2 5.9h-6.5zM148.5 474.9l3.2 5.9h-6.5zM149.7 474.5l3.2 5.9h-6.5zM150.6 474.0l3.2 5.9h-6.5zM151.9 474.4l3.2 5.9h-6.5zM152.9 474.6l3.2 5.9h-6.5zM153.9 474.6l3.2 5.9h-6.5zM154.8 474.2l3.2 5.9h-6.5zM155.7 474.4l3.2 5.9h-6.5zM156.7 474.3l3.2 5.9h-6.5zM157.8 474.2l3.2 5.9h-6.5zM158.8 474.5l3.2 5.9h-6.5zM159.8 474.4l3.2 5.9h-6.5zM161.0 474.5l3.2 5.9h-6.5zM162.0 474.6l3.2 5.9h-6.5zM162.9 474.3l3.2 5.9h-6.5zM163.7 474.9l3.2 5.9h-6.5zM164.8 474.3l3.2 5.9h-6.5zM166.1 474.6l3.2 5.9h-6.5zM167.0 474.5l3.2 5.9h-6.5zM168.0 474.5l3.2 5.9h-6.5zM169.2 474.9l3.2 5.9h-6.5zM170.3 474.2l3.2 5.9h-6.5zM171.4 474.7l3.2 5.9h-6.5zM172.7 474.2l3.2 5.9h-6.5zM174.0 474.6l3.2 5.9h-6.5zM174.8 474.1l3.2 5.9h-6.5zM176.0 474.4l3.2 5.9h-6.5zM177.1 474.3l3.2 5.9h-6.5zM178.0 474.3l3.2 5.9h-6.5zM178.8 474.7l3.2 5.9h-6.5zM179.7 474.8l3.2 5.9h-6.5zM180.7 474.4l3.2 5.9h-6.5zM181.9 474.2l3.2 5.9h-6.5zM182.7 474.7l3.2 5.9h-6.5zM183.8 474.1l3.2 5.9h-6.5zM184.7 474.0l3.2 5.9h-6.5zM185.8 474.4l3.2 5.9h-6.5zM186.9 474.4l3.2 5.9h-6.5zM187.7 474.5l3.2 5.9h-6.5zM188.6 474.4l3.2 5.9h-6.5zM189.4 475.2l3.2 5.9h-6.5zM190.3 474.2l3.2 5.9h-6.5zM191.5 474.3l3.2 5.9h-6.5zM192.8 474.2l3.2 5.9h-6.5zM193.7 474.7l3.2 5.9h-6.5zM194.6 474.1l3.2 5.9h-6.5zM195.4 474.0l3.2 5.9h-6.5zM196.5 474.3l3.2 5.9h-6.5zM197.7 474.2l3.2 5.9h-6.5zM198.5 474.4l3.2 5.9h-6.5zM199.5 473.8l3.2 5.9h-6.5zM200.7 474.6l3.2 5.9h-6.5zM201.6 474.4l3.2 5.9h-6.5zM202.5 474.3l3.2 5.9h-6.5zM203.6 474.2l3.2 5.9h-6.5zM204.8 474.5l3.2 5.9h-6.5zM205.6 474.3l3.2 5.9h-6.5zM206.5 474.5l3.2 5.9h-6.5zM207.5 474.9l3.2 5.9h-6.5zM208.4 474.4l3.2 5.9h-6.5zM209.7 474.7l3.2 5.9h-6.5zM210.9 474.6l3.2 5.9h-6.5zM212.0 474.3l3.2 5.9h-6.5zM213.1 474.8l3.2 5.9h-6.5zM214.1 474.7l3.2 5.9h-6.5zM214.9 474.2l3.2 5.9h-6.5zM216.1 474.6l3.2 5.9h-6.5zM217.0 475.0l3.2 5.9h-6.5zM217.8 474.8l3.2 5.9h-6.5zM218.9 474.7l3.2 5.9h-6.5zM219.9 474.4l3.2 5.9h-6.5zM220.7 474.5l3.2 5.9h-6.5zM221.8 474.6l3.2 5.9h-6.5zM222.8 474.3l3.2 5.9h-6.5zM223.6 474.0l3.2 5.9h-6.5zM224.7 475.0l3.2 5.9h-6.5zM225.9 474.3l3.2 5.9h-6.5zM227.1 474.1l3.2 5.9h-6.5zM228.4 473.9l3.2 5.9h-6.5zM229.7 475.2l3.2 5.9h-6.5zM230.6 474.7l3.2 5.9h-6.5zM231.7 474.5l3.2 5.9h-6.5zM232.8 474.5l3.2 5.9h-6.5zM234.0 475.2l3.2 5.9h-6.5zM235.3 474.8l3.2 5.9h-6.5zM236.1 474.5l3.2 5.9h-6.5zM236.9 475.1l3.2 5.9h-6.5zM237.7 475.0l3.2 5.9h-6.5zM238.6 474.8l3.2 5.9h-6.5zM239.8 474.9l3.2 5.9h-6.5zM240.7 474.9l3.2 5.9h-6.5zM241.5 475.1l3.2 5.9h-6.5zM242.4 475.0l3.2 5.9h-6.5zM243.4 474.9l3.2 5.9h-6.5zM244.5 475.5l3.2 5.9h-6.5zM245.6 475.7l3.2 5.9h-6.5zM246.6 475.3l3.2 5.9h-6.5zM247.7 475.4l3.2 5.9h-6.5zM248.7 475.7l3.2 5.9h-6.5zM249.6 475.2l3.2 5.9h-6.5zM250.7 475.6l3.2 5.9h-6.5zM252.0 475.9l3.2 5.9h-6.5zM253.3 475.5l3.2 5.9h-6.5zM254.5 475.1l3.2 5.9h-6.5zM255.6 475.3l3.2 5.9h-6.5zM256.4 475.5l3.2 5.9h-6.5zM257.3 475.8l3.2 5.9h-6.5zM258.3 475.3l3.2 5.9h-6.5zM259.4 475.4l3.2 5.9h-6.5zM260.3 476.0l3.2 5.9h-6.5zM261.5 476.6l3.2 5.9h-6.5zM262.8 476.2l3.2 5.9h-6.5zM263.8 476.0l3.2 5.9h-6.5zM264.8 476.4l3.2 5.9h-6.5zM265.8 476.5l3.2 5.9h-6.5zM266.7 476.5l3.2 5.9h-6.5zM267.8 475.9l3.2 5.9h-6.5zM268.8 476.8l3.2 5.9h-6.5zM270.0 475.9l3.2 5.9h-6.5zM271.0 476.3l3.2 5.9h-6.5zM272.0 475.7l3.2 5.9h-6.5zM273.1 476.6l3.2 5.9h-6.5zM274.1 476.5l3.2 5.9h-6.5zM275.2 476.8l3.2 5.9h-6.5zM276.5 476.6l3.2 5.9h-6.5zM277.6 476.3l3.2 5.9h-6.5zM278.6 476.7l3.2 5.9h-6.5zM279.5 476.3l3.2 5.9h-6.5zM280.8 477.3l3.2 5.9h-6.5zM281.7 476.2l3.2 5.9h-6.5zM282.7 476.9l3.2 5.9h-6.5zM283.8 476.4l3.2 5.9h-6.5zM284.6 476.5l3.2 5.9h-6.5zM285.8 476.5l3.2 5.9h-6.5zM286.6 476.9l3.2 5.9h-6.5zM287.9 476.7l3.2 5.9h-6.5zM288.9 476.7l3.2 5.9h-6.5zM289.8 476.2l3.2 5.9h-6.5zM291.1 476.9l3.2 5.9h-6.5zM292.1 476.5l3.2 5.9h-6.5zM293.4 476.5l3.2 5.9h-6.5zM294.4 477.0l3.2 5.9h-6.5zM295.4 476.9l3.2 5.9h-6.5zM296.3 476.6l3.2 5.9h-6.5zM297.5 476.8l3.2 5.9h-6.5zM298.5 476.2l3.2 5.9h-6.5zM299.6 476.5l3.2 5.9h-6.5zM300.6 476.6l3.2 5.9h-6.5zM301.4 476.3l3.2 5.9h-6.5zM302.2 476.2l3.2 5.9h-6.5zM303.1 476.3l3.2 5.9h-6.5zM304.0 475.9l3.2 5.9h-6.5zM305.2 476.2l3.2 5.9h-6.5zM306.4 476.5l3.2 5.9h-6.5zM307.5 476.2l3.2 5.9h-6.5zM308.3 476.1l3.2 5.9h-6.5zM309.2 475.8l3.2 5.9h-6.5zM310.5 476.5l3.2 5.9h-6.5zM311.3 475.8l3.2 5.9h-6.5zM312.3 475.4l3.2 5.9h-6.5zM313.4 476.3l3.2 5.9h-6.5zM314.3 476.1l3.2 5.9h-6.5zM315.5 475.4l3.2 5.9h-6.5zM316.7 475.4l3.2 5.9h-6.5zM317.6 475.3l3.2 5.9h-6.5zM318.7 475.1l3.2 5.9h-6.5zM319.8 475.2l3.2 5.9h-6.5zM320.9 474.6l3.2 5.9h-6.5zM321.7 474.5l3.2 5.9h-6.5zM322.4 474.4l3.2 5.9h-6.5zM323.6 474.7l3.2 5.9h-6.5zM324.4 474.4l3.2 5.9h-6.5zM325.4 474.3l3.2 5.9h-6.5zM326.6 474.5l3.2 5.9h-6.5zM327.5 474.0l3.2 5.9h-6.5zM328.4 474.0l3.2 5.9h-6.5zM329.7 474.0l3.2 5.9h-6.5zM330.8 474.3l3.2 5.9h-6.5zM331.7 474.1l3.2 5.9h-6.5zM332.9 473.6l3.2 5.9h-6.5zM333.8 473.3l3.2 5.9h-6.5zM334.8 473.3l3.2 5.9h-6.5zM336.0 472.5l3.2 5.9h-6.5zM337.4 472.9l3.2 5.9h-6.5zM338.6 472.8l3.2 5.9h-6.5zM339.5 472.4l3.2 5.9h-6.5zM340.6 471.8l3.2 5.9h-6.5zM341.6 472.2l3.2 5.9h-6.5zM342.4 471.8l3.2 5.9h-6.5zM343.5 471.8l3.2 5.9h-6.5zM344.3 471.4l3.2 5.9h-6.5zM345.2 471.6l3.2 5.9h-6.5zM346.0 471.0l3.2 5.9h-6.5zM347.0 471.1l3.2 5.9h-6.5zM348.2 471.2l3.2 5.9h-6.5zM349.3 470.6l3.2 5.9h-6.5zM350.3 470.4l3.2 5.9h-6.5zM351.4 470.7l3.2 5.9h-6.5zM352.7 470.8l3.2 5.9h-6.5zM353.7 469.7l3.2 5.9h-6.5zM354.9 469.5l3.2 5.9h-6.5zM355.7 469.1l3.2 5.9h-6.5zM357.1 469.2l3.2 5.9h-6.5zM358.4 469.1l3.2 5.9h-6.5zM359.6 468.7l3.2 5.9h-6.5zM360.7 468.2l3.2 5.9h-6.5zM361.9 468.2l3.2 5.9h-6.5zM363.2 467.8l3.2 5.9h-6.5zM364.0 467.5l3.2 5.9h-6.5zM365.2 467.0l3.2 5.9h-6.5zM366.4 467.1l3.2 5.9h-6.5zM367.4 466.7l3.2 5.9h-6.5zM368.7 466.7l3.2 5.9h-6.5zM369.6 465.9l3.2 5.9h-6.5zM370.5 465.8l3.2 5.9h-6.5zM371.5 465.7l3.2 5.9h-6.5zM372.3 465.1l3.2 5.9h-6.5zM373.6 464.8l3.2 5.9h-6.5zM374.8 464.5l3.2 5.9h-6.5zM376.0 464.4l3.2 5.9h-6.5zM377.0 464.3l3.2 5.9h-6.5zM377.7 463.5l3.2 5.9h-6.5zM378.4 462.4l3.2 5.9h-6.5zM379.7 461.9l3.2 5.9h-6.5zM381.1 461.4l3.2 5.9h-6.5zM382.5 460.8l3.2 5.9h-6.5zM383.2 460.1l3.2 5.9h-6.5zM384.4 459.4l3.2 5.9h-6.5zM385.2 458.4l3.2 5.9h-6.5zM386.6 458.6l3.2 5.9h-6.5zM387.1 457.3l3.2 5.9h-6.5zM387.8 456.4l3.2 5.9h-6.5zM389.2 456.0l3.2 5.9h-6.5zM390.7 455.6l3.2 5.9h-6.5zM391.3 454.2l3.2 5.9h-6.5zM392.8 453.8l3.2 5.9h-6.5zM394.0 453.0l3.2 5.9h-6.5zM395.0 452.7l3.2 5.9h-6.5zM395.7 451.8l3.2 5.9h-6.5zM396.9 451.3l3.2 5.9h-6.5zM398.0 450.3l3.2 5.9h-6.5zM399.0 449.7l3.2 5.9h-6.5zM399.9 448.7l3.2 5.9h-6.5zM400.9 448.0l3.2 5.9h-6.5zM401.9 447.7l3.2 5.9h-6.5zM403.1 446.2l3.2 5.9h-6.5zM404.2 444.8l3.2 5.9h-6.5zM405.6 443.5l3.2 5.9h-6.5zM406.0 441.8l3.2 5.9h-6.5zM407.4 440.7l3.2 5.9h-6.5zM408.7 439.6l3.2 5.9h-6.5zM409.1 437.7l3.2 5.9h-6.5zM410.5 435.6l3.2 5.9h-6.5zM411.5 433.4l3.2 5.9h-6.5zM413.1 432.1l3.2 5.9h-6.5zM414.3 429.9l3.2 5.9h-6.5zM414.7 428.1l3.2 5.9h-6.5zM416.4 426.7l3.2 5.9h-6.5zM417.0 424.0l3.2 5.9h-6.5zM418.0 421.8l3.2 5.9h-6.5zM419.2 419.5l3.2 5.9h-6.5zM420.5 416.6l3.2 5.9h-6.5zM421.2 413.2l3.2 5.9h-6.5zM422.7 409.4l3.2 5.9h-6.5zM423.5 406.5l3.2 5.9h-6.5zM425.2 402.1l3.2 5.9h-6.5zM425.7 397.9l3.2 5.9h-6.5zM427.2 394.6l3.2 5.9h-6.5zM427.5 388.8l3.2 5.9h-6.5zM429.0 384.7l3.2 5.9h-6.5zM430.4 378.9l3.2 5.9h-6.5zM431.4 366.3l3.2 5.9h-6.5zM433.9 339.0l3.2 5.9h-6.5zM436.0 328.8l3.2 5.9h-6.5zM437.5 328.3l3.2 5.9h-6.5zM438.2 331.3l3.2 5.9h-6.5zM438.6 334.2l3.2 5.9h-6.5zM439.8 337.1l3.2 5.9h-6.5zM441.1 341.7l3.2 5.9h-6.5zM441.9 348.0l3.2 5.9h-6.5zM443.3 352.3l3.2 5.9h-6.5zM444.9 355.5l3.2 5.9h-6.5zM445.9 359.9l3.2 5.9h-6.5zM446.6 364.0l3.2 5.9h-6.5zM447.9 368.7l3.2 5.9h-6.5zM449.0 372.7l3.2 5.9h-6.5zM449.8 377.7l3.2 5.9h-6.5zM451.1 384.3l3.2 5.9h-6.5zM451.6 390.8l3.2 5.9h-6.5zM453.5 396.8l3.2 5.9h-6.5zM454.5 401.3l3.2 5.9h-6.5zM455.3 404.5l3.2 5.9h-6.5zM456.4 407.6l3.2 5.9h-6.5zM457.5 411.4l3.2 5.9h-6.5zM458.6 414.5l3.2 5.9h-6.5zM459.4 417.1l3.2 5.9h-6.5zM460.5 419.6l3.2 5.9h-6.5zM461.9 421.5l3.2 5.9h-6.5zM462.9 423.7l3.2 5.9h-6.5zM464.3 425.2l3.2 5.9h-6.5zM464.8 426.9l3.2 5.9h-6.5zM466.0 428.3l3.2 5.9h-6.5zM467.0 428.1l3.2 5.9h-6.5zM468.1 428.6l3.2 5.9h-6.5zM468.8 429.6l3.2 5.9h-6.5zM470.2 429.4l3.2 5.9h-6.5zM471.2 429.5l3.2 5.9h-6.5zM472.2 430.2l3.2 5.9h-6.5zM473.3 429.4l3.2 5.9h-6.5zM474.2 429.6l3.2 5.9h-6.5zM475.3 428.6l3.2 5.9h-6.5zM476.6 428.6l3.2 5.9h-6.5zM477.5 428.3l3.2 5.9h-6.5zM478.8 427.5l3.2 5.9h-6.5zM479.8 426.1l3.2 5.9h-6.5zM480.6 424.5l3.2 5.9h-6.5zM481.9 423.6l3.2 5.9h-6.5zM482.9 422.5l3.2 5.9h-6.5zM484.5 421.4l3.2 5.9h-6.5zM485.2 419.2l3.2 5.9h-6.5zM486.0 417.7l3.2 5.9h-6.5zM487.5 415.4l3.2 5.9h-6.5zM488.5 413.3l3.2 5.9h-6.5zM489.2 411.3l3.2 5.9h-6.5zM490.3 409.5l3.2 5.9h-6.5zM491.8 407.0l3.2 5.9h-6.5zM492.9 404.7l3.2 5.9h-6.5zM493.5 402.8l3.2 5.9h-6.5zM494.8 400.8l3.2 5.9h-6.5zM495.7 399.1l3.2 5.9h-6.5zM436.4 325.3l3.2 5.9h-6.5zM437.4 329.5l3.2 5.9h-6.5zM438.5 332.8l3.2 5.9h-6.5z" fill="#ff0000"/>
<rect x="96.0" y="18.9" width="466.0" height="477.6" fill="none" stroke="#000" stroke-width="2.2"/>
<path d="M103.3 496.5v-5.5M103.3 18.9v5.5M112.2 496.5v-5.5M112.2 18.9v5.5M121.1 496.5v-5.5M121.1 18.9v5.5M130.0 496.5v-5.5M130.0 18.9v5.5M138.9 496.5v-5.5M138.9 18.9v5.5M147.8 496.5v-5.5M147.8 18.9v5.5M156.7 496.5v-5.5M156.7 18.9v5.5M165.6 496.5v-5.5M165.6 18.9v5.5M174.5 496.5v-5.5M174.5 18.9v5.5M183.4 496.5v-11.0M183.4 18.9v11.0M192.3 496.5v-5.5M192.3 18.9v5.5M201.2 496.5v-5.5M201.2 18.9v5.5M210.1 496.5v-5.5M210.1 18.9v5.5M219.0 496.5v-5.5M219.0 18.9v5.5M227.9 496.5v-5.5M227.9 18.9v5.5M236.8 496.5v-5.5M236.8 18.9v5.5M245.7 496.5v-5.5M245.7 18.9v5.5M254.6 496.5v-5.5M254.6 18.9v5.5M263.5 496.5v-5.5M263.5 18.9v5.5M272.4 496.5v-11.0M272.4 18.9v11.0M281.3 496.5v-5.5M281.3 18.9v5.5M290.2 496.5v-5.5M290.2 18.9v5.5M299.1 496.5v-5.5M299.1 18.9v5.5M308.0 496.5v-5.5M308.0 18.9v5.5M316.9 496.5v-5.5M316.9 18.9v5.5M325.8 496.5v-5.5M325.8 18.9v5.5M334.7 496.5v-5.5M334.7 18.9v5.5M343.6 496.5v-5.5M343.6 18.9v5.5M352.5 496.5v-5.5M352.5 18.9v5.5M361.4 496.5v-11.0M361.4 18.9v11.0M370.3 496.5v-5.5M370.3 18.9v5.5M379.2 496.5v-5.5M379.2 18.9v5.5M388.1 496.5v-5.5M388.1 18.9v5.5M397.0 496.5v-5.5M397.0 18.9v5.5M405.9 496.5v-5.5M405.9 18.9v5.5M414.8 496.5v-5.5M414.8 18.9v5.5M423.7 496.5v-5.5M423.7 18.9v5.5M432.6 496.5v-5.5M432.6 18.9v5.5M441.5 496.5v-5.5M441.5 18.9v5.5M450.4 496.5v-11.0M450.4 18.9v11.0M459.3 496.5v-5.5M459.3 18.9v5.5M468.2 496.5v-5.5M468.2 18.9v5.5M477.1 496.5v-5.5M477.1 18.9v5.5M486.0 496.5v-5.5M486.0 18.9v5.5M494.9 496.5v-5.5M494.9 18.9v5.5M503.8 496.5v-5.5M503.8 18.9v5.5M512.7 496.5v-5.5M512.7 18.9v5.5M521.6 496.5v-5.5M521.6 18.9v5.5M530.5 496.5v-5.5M530.5 18.9v5.5M539.4 496.5v-11.0M539.4 18.9v11.0M548.3 496.5v-5.5M548.3 18.9v5.5M557.2 496.5v-5.5M557.2 18.9v5.5M96.0 443.9h5.5M562.0 443.9h-5.5M96.0 390.8h5.5M562.0 390.8h-5.5M96.0 337.6h11.0M562.0 337.6h-11.0M96.0 284.5h5.5M562.0 284.5h-5.5M96.0 231.3h5.5M562.0 231.3h-5.5M96.0 178.2h11.0M562.0 178.2h-11.0M96.0 125.0h5.5M562.0 125.0h-5.5M96.0 71.9h5.5M562.0 71.9h-5.5" fill="none" stroke="#000" stroke-width="2"/>
<g font-size="23px">
<g text-anchor="end">
<text x="79.1" y="20.4">0.6</text>
<text x="79.1" y="179.7">0.4</text>
<text x="79.1" y="339.0">0.2</text>
<text x="79.1" y="498.3">0.0</text>
</g>
<g text-anchor="middle">
<text x="183.5" y="527.4">100</text>
<text x="272.5" y="527.4">200</text>
<text x="361.5" y="527.4">300</text>
<text x="450.5" y="527.4">400</text>
<text x="539.5" y="527.4">500</text>
</g>
<text x="186.2" y="67.4">Sm</text>
<text x="186.2" y="96.9">La</text>
<text x="186.2" y="126.2">Nb</text>
<text x="290" y="569.9">T <tspan dx="2.3">(</tspan><tspan font-size="17.5px" dy="-9.9">o</tspan><tspan dy="9.9">C)</tspan></text>
<text transform="translate(22.1,262.3) rotate(-90)">tan δ</text>
</g>
<rect x="148.1" y="55" width="9.6" height="9.6" fill="#000"/>
<circle cx="153.3" cy="88.9" r="5.1" fill="#0000ff"/>
<path d="M153.4 111.4l6.5 11.3h-13z" fill="#ff0000"/>
</svg>
</body></html>
